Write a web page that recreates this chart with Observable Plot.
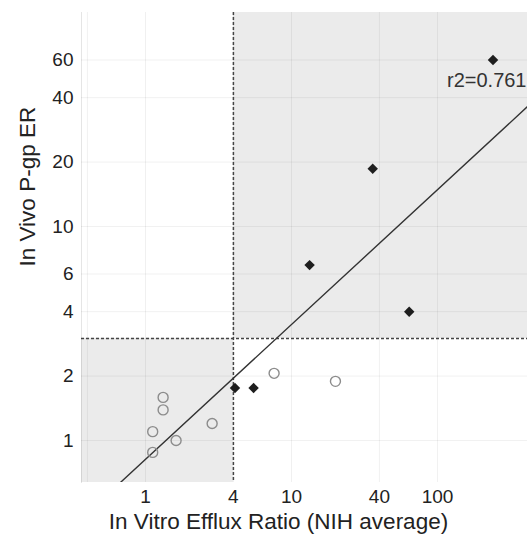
<!DOCTYPE html>
<html><head><meta charset="utf-8">
<script src="https://cdn.jsdelivr.net/npm/d3@7"></script>
<script src="https://cdn.jsdelivr.net/npm/@observablehq/plot@0.6"></script>
<style>
body{margin:0;background:#fff;}
#chart svg{display:block;}
</style>
</head><body><div id="chart"></div>
<script>
// Data
const openX = [7.6, 20, 1.32, 1.32, 1.12, 1.12, 1.62, 2.86];
const openY = [2.06, 1.89, 1.59, 1.39, 1.10, 0.88, 1.0, 1.20];
const filledX = [240, 36, 13.3, 64, 4.1, 5.5];
const filledY = [60, 18.6, 6.6, 4.0, 1.76, 1.76];
const xTicks = [1, 4, 10, 40, 100];
const yTicks = [1, 2, 4, 6, 10, 20, 40, 60];
const xGrid = [0.4, 1, 4, 10, 40, 100];
const xCut = 4, yCut = 3;
const fitSlope = 0.63, fitIntercept = -0.088; // log10-log10 fit
const r2 = 0.761;
const xDomain = [0.3644, 413.5];
const yDomain = [0.6364, 100];
const xTitle = "In Vitro Efflux Ratio (NIH average)";
const yTitle = "In Vivo P-gp ER";

const openPts = openX.map((x, i) => ({x, y: openY[i]}));
const filledPts = filledX.map((x, i) => ({x, y: filledY[i]}));
const regions = [
  {x1: xDomain[0], x2: xCut, y1: yDomain[0], y2: yCut},
  {x1: xCut, x2: xDomain[1], y1: yCut, y2: yDomain[1]}
];
const fitLine = xDomain.map(x => ({x, y: Math.pow(10, fitIntercept + fitSlope * Math.log10(x))}));

const font = "'Liberation Sans', Arial, Helvetica, sans-serif";

const chart = Plot.plot({
  width: 527,
  height: 541,
  marginLeft: 81,
  marginRight: 0,
  marginTop: 12,
  marginBottom: 59,
  style: {fontFamily: font, background: "#fff", color: "#222"},
  x: {type: "log", domain: xDomain, axis: null},
  y: {type: "log", domain: yDomain},
  marks: [
    Plot.rect(regions, {x1: "x1", x2: "x2", y1: "y1", y2: "y2", fill: "#ebebeb"}),
    Plot.ruleX(xGrid, {stroke: "#000", strokeOpacity: 0.06}),
    Plot.ruleY(yTicks, {stroke: "#000", strokeOpacity: 0.06}),
    Plot.frame({anchor: "left", stroke: "#000", strokeOpacity: 0.1}),
    Plot.ruleX([xCut], {stroke: "#444", strokeWidth: 1.5, strokeDasharray: "3,2"}),
    Plot.ruleY([yCut], {stroke: "#444", strokeWidth: 1.5, strokeDasharray: "3,2"}),
    Plot.line(fitLine, {x: "x", y: "y", stroke: "#333", strokeWidth: 1.4, clip: true}),
    Plot.dot(openPts, {x: "x", y: "y", r: 5, symbol: "circle", stroke: "#8c8c8c", strokeWidth: 1.4, fill: "none"}),
    Plot.dot(filledPts, {x: "x", y: "y", r: 4.7, symbol: "diamond2", fill: "#1e1e1e", stroke: "none"}),
    Plot.text([`r2=${r2}`], {x: xDomain[1], y: 48, textAnchor: "end", dx: -1, fontSize: 20, fill: "#333"}),
    Plot.text(xTicks, {x: d => d, text: d => String(d), frameAnchor: "bottom", lineAnchor: "top", dy: 7, fontSize: 19, fill: "#222"}),
    Plot.axisY(yTicks, {tickSize: 0, tickPadding: 8, fontSize: 19, tickFormat: d => String(d), label: null, color: "#222"}),
    Plot.text([xTitle], {frameAnchor: "bottom", dy: 46, dx: -26, fontSize: 22.5, fill: "#222"}),
    Plot.text([yTitle], {frameAnchor: "left", rotate: -90, dx: -54, dy: 19, fontSize: 22.5, fill: "#222"})
  ]
});
document.getElementById("chart").appendChild(chart);
</script>
</body></html>
